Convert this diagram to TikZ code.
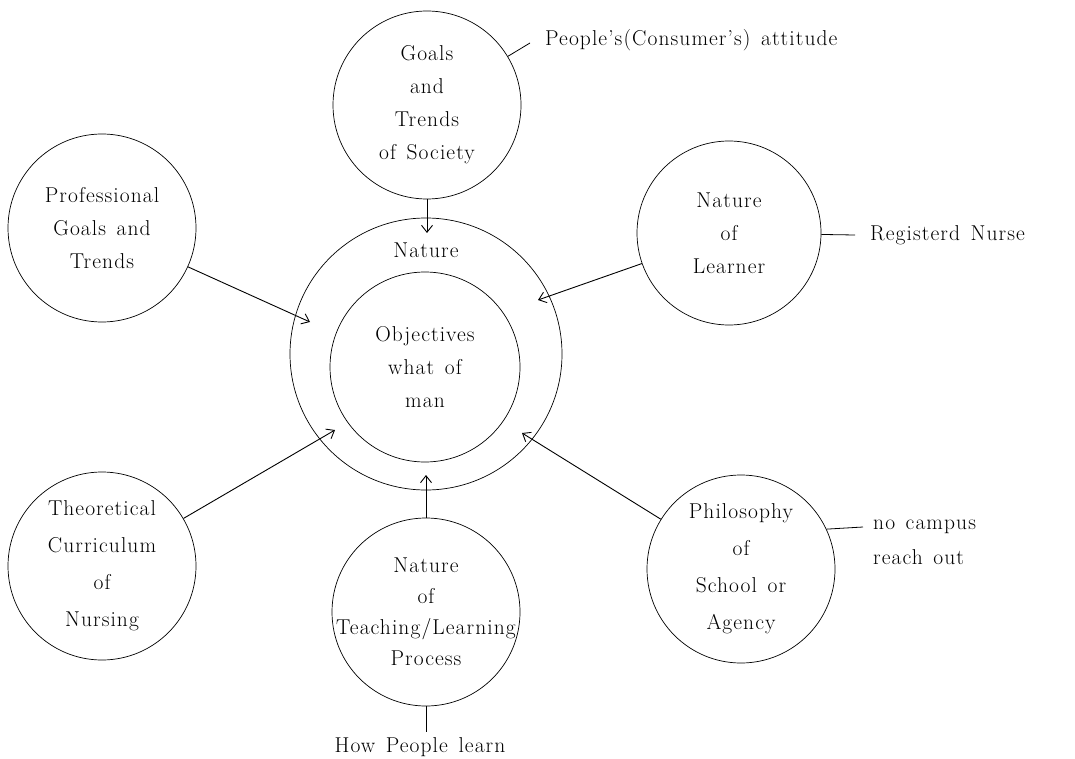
\documentclass[tikz,border=0pt]{standalone}
\usepackage{fontspec}
\setmainfont{Latin Modern Roman}[LetterSpace=5, WordSpace=1.4]
\usetikzlibrary{arrows.meta, positioning}
\tikzset{
  bubble/.style={
    circle, draw, line width=0.7pt,
    minimum size=188pt, inner sep=0pt,
    align=center,
    font=\fontsize{21.5}{33}\selectfont
  },
  loose/.style={font=\fontsize{21.5}{37}\selectfont},
  feed/.style={-{Straight Barb[length=7pt, width=11pt]}, line width=0.9pt},
  tag/.style={inner sep=0pt, align=left, font=\fontsize{21.5}{35}\selectfont},
  stub/.style={line width=0.8pt},
}

\begin{document}
\begin{tikzpicture}[x=1pt, y=-1pt]
    \useasboundingbox (0,0) rectangle (1075,759);

    % centre rings
    \node[circle, draw, line width=0.7pt, minimum size=272pt] (ring) at (426,354) {};
    \node[bubble, minimum size=190pt] (obj) at (425,367) {Objectives\\what of\\man};
    \node[tag] (nat) at (426,250) {Nature};

    % outer circles
    \node[bubble] (soc) at (427,105) {Goals\\and\\Trends\\of Society};
    \node[bubble] (prof) at (102,228) {Professional\\Goals and\\Trends};
    \node[bubble, minimum size=184pt] (lrn) at (729,233) {Nature\\of\\Learner};
    \node[bubble, loose] (theo) at (102,566) {Theoretical\\Curriculum\\of\\Nursing};
    \node[bubble, inner sep=-20pt, font=\fontsize{21.5}{31}\selectfont] (teach) at (426,612) {Nature\\of\\Teaching/Learning\\Process};
    \node[bubble, loose] (phil) at (741,569) {Philosophy\\of\\School or\\Agency};

    % arrow tips inside the ring
    \coordinate (tS) at (427,233);
    \coordinate (tP) at (310,322);
    \coordinate (tL) at (538,300);
    \coordinate (tC) at (335,430);
    \coordinate (tT) at (426,475);
    \coordinate (tA) at (522,433);

    \draw[feed] (soc) -- (tS);
    \draw[feed] (prof) -- (tP);
    \draw[feed] (lrn) -- (tL);
    \draw[feed] (theo) -- (tC);
    \draw[feed] (teach) -- (tT);
    \draw[feed] (phil) -- (tA);

    % side notes
    \coordinate (pplL) at (530,43);
    \node[tag, anchor=west] (ppl) at (545,40) {People's(Consumer's) attitude};
    \draw[stub] (soc) -- (pplL);

    \coordinate (rnL) at (855,235);
    \node[tag, anchor=west] (rn) at (870,235) {Registerd Nurse};
    \draw[stub] (lrn) -- (rnL);

    \coordinate (campL) at (863,527);
    \node[tag, anchor=west] (camp) at (873,542) {no campus\\reach out};
    \draw[stub] (phil.25) -- (campL);

    \coordinate (howL) at (426,732);
    \node[tag] (how) at (420,747) {How People learn};
    \draw[stub] (teach) -- (howL);
\end{tikzpicture}
\end{document}
